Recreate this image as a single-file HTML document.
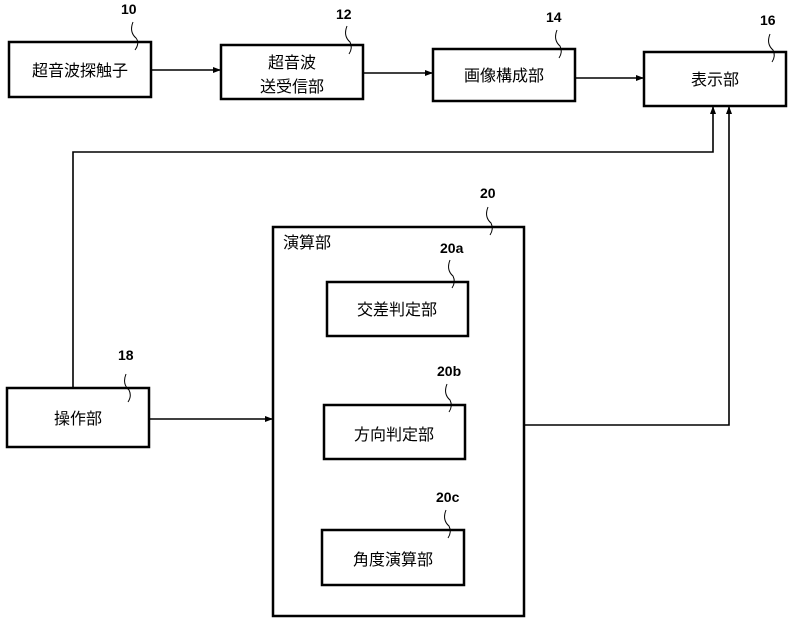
<!DOCTYPE html>
<html><head><meta charset="utf-8"><style>
html,body{margin:0;padding:0;background:#fff;}
svg{display:block;}
text{font-family:"Liberation Sans","Noto Sans CJK JP",sans-serif;fill:#000;}
.j{font-size:16px;}
.n{font-size:14px;font-weight:bold;}
</style></head><body>
<svg width="793" height="631" viewBox="0 0 793 631" xmlns="http://www.w3.org/2000/svg">
<defs><marker id="a" markerWidth="8" markerHeight="8" refX="7" refY="4" orient="auto" markerUnits="userSpaceOnUse"><path d="M0,1 L8,4 L0,7 Z" fill="#000"/></marker></defs>
<g fill="none" stroke="#000" stroke-width="2.5">
<rect x="9" y="42" width="142" height="55"/>
<rect x="221" y="45" width="142" height="54"/>
<rect x="433" y="49" width="142" height="52"/>
<rect x="644" y="52" width="142" height="54"/>
<rect x="7" y="388" width="142" height="59"/>
<rect x="273" y="227" width="251" height="389"/>
<rect x="327" y="282" width="141" height="54"/>
<rect x="324" y="405" width="141" height="54"/>
<rect x="322" y="530" width="142" height="55"/>
</g>
<g fill="none" stroke="#000" stroke-width="1.6">
<line x1="151" y1="70" x2="220" y2="70" marker-end="url(#a)"/>
<line x1="363" y1="73" x2="432" y2="73" marker-end="url(#a)"/>
<line x1="575" y1="78" x2="643" y2="78" marker-end="url(#a)"/>
<polyline points="73,388 73,152 713,152 713,107" marker-end="url(#a)"/>
<polyline points="524,425 729,425 729,107" marker-end="url(#a)"/>
<line x1="149" y1="419" x2="272" y2="419" marker-end="url(#a)"/>
</g>
<g fill="none" stroke="#000" stroke-width="1">
<path d="M133,22 q-4,10 3,16 q4,5 -1,12"/>
<path d="M347,26 q-4,10 3,16 q3,6 -1,12"/>
<path d="M557,30 q-4,10 3,16 q3,6 -1,12"/>
<path d="M770,34 q-4,10 3,16 q3,6 -1,12"/>
<path d="M126,374 q-4,10 3,16 q3,6 -1,12"/>
<path d="M488,207 q-4,10 3,16 q3,6 -1,12"/>
<path d="M450,260 q-4,10 3,16 q3,6 -1,12"/>
<path d="M447,384 q-4,10 3,16 q3,6 -1,12"/>
<path d="M446,510 q-4,10 3,16 q3,6 -1,12"/>
</g>
<text class="n" x="121" y="14">10</text>
<text class="n" x="336" y="19">12</text>
<text class="n" x="546" y="22">14</text>
<text class="n" x="760" y="25">16</text>
<text class="n" x="118" y="360">18</text>
<text class="n" x="480" y="198">20</text>
<text class="n" x="440" y="253">20a</text>
<text class="n" x="437" y="376">20b</text>
<text class="n" x="436" y="502">20c</text>
<text class="j" x="80" y="76" text-anchor="middle">超音波探触子</text>
<text class="j" x="292" y="68" text-anchor="middle">超音波</text>
<text class="j" x="292" y="92" text-anchor="middle">送受信部</text>
<text class="j" x="504" y="81" text-anchor="middle">画像構成部</text>
<text class="j" x="715" y="85" text-anchor="middle">表示部</text>
<text class="j" x="78" y="424" text-anchor="middle">操作部</text>
<text class="j" x="283" y="248">演算部</text>
<text class="j" x="397" y="315" text-anchor="middle">交差判定部</text>
<text class="j" x="394" y="440" text-anchor="middle">方向判定部</text>
<text class="j" x="393" y="565" text-anchor="middle">角度演算部</text>
</svg>
</body></html>
